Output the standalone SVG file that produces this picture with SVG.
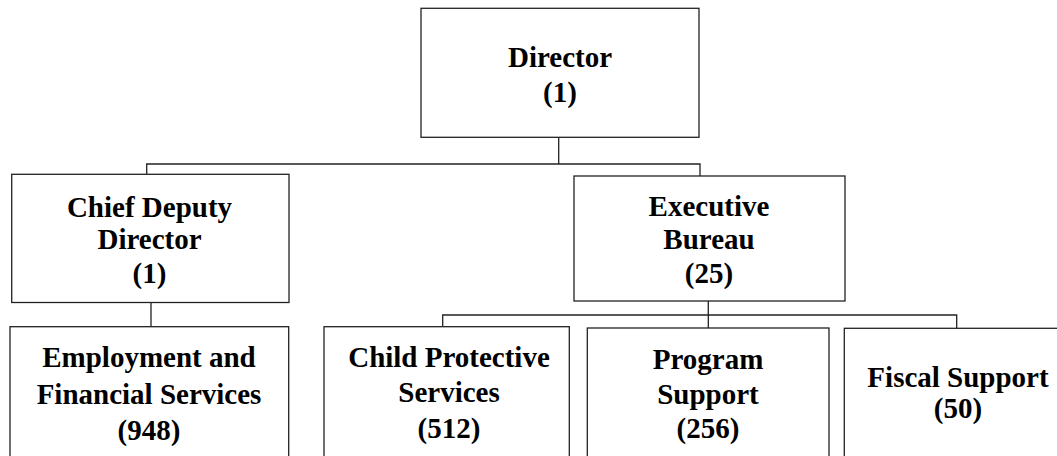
<svg xmlns="http://www.w3.org/2000/svg" width="1057" height="456" viewBox="0 0 1057 456">
<style>
.box{fill:#ffffff;stroke:#222222;stroke-width:1.3}
.ln{fill:none;stroke:#222222;stroke-width:1.3}
text{font-family:"Liberation Serif","Times New Roman",serif;font-weight:bold;font-size:29px;fill:#000000;text-anchor:middle}
</style>
<rect width="1057" height="456" fill="#ffffff"/>
<g id="connectors">
<path class="ln" d="M558.7,137.3 V164 M146.7,174.3 V164 H700 V176"/>
<path class="ln" d="M151,302.5 V326.7"/>
<path class="ln" d="M708.3,301 V328 M442.7,326.7 V315 H956.7 V328.3"/>
</g>
<g id="director">
<rect class="box" x="421" y="8.3" width="278" height="129"/>
<text x="560" y="66.7">Director</text>
<text x="560" y="101.7">(1)</text>
</g>
<g id="chief-deputy">
<rect class="box" x="11.7" y="174.3" width="277.3" height="128.2"/>
<text x="149.5" y="216.7">Chief Deputy</text>
<text x="149.5" y="249.3">Director</text>
<text x="149.5" y="282.7">(1)</text>
</g>
<g id="executive-bureau">
<rect class="box" x="574" y="176" width="271" height="125"/>
<text x="709" y="216">Executive</text>
<text x="709" y="249.3">Bureau</text>
<text x="709" y="283.3">(25)</text>
</g>
<g id="employment">
<rect class="box" x="10" y="326.7" width="278.7" height="150"/>
<text x="149" y="367.3">Employment and</text>
<text x="149" y="404">Financial Services</text>
<text x="149" y="440">(948)</text>
</g>
<g id="child-protective">
<rect class="box" x="324" y="326.7" width="245.3" height="150"/>
<text x="449" y="367.3">Child Protective</text>
<text x="449" y="401.7">Services</text>
<text x="449" y="438">(512)</text>
</g>
<g id="program-support">
<rect class="box" x="587.3" y="328" width="241.7" height="150"/>
<text x="708" y="369.3">Program</text>
<text x="708" y="404">Support</text>
<text x="708" y="438.3">(256)</text>
</g>
<g id="fiscal-support">
<rect class="box" x="844.3" y="328.3" width="226" height="150"/>
<text x="958" y="386.7">Fiscal Support</text>
<text x="958" y="418.3">(50)</text>
</g>
</svg>
